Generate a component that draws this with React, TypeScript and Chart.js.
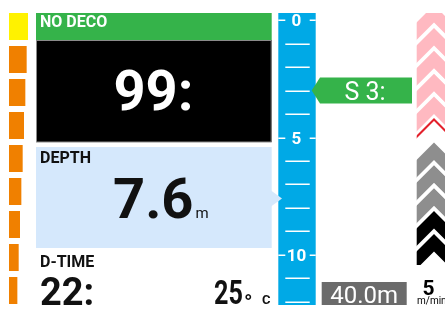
import React, { useEffect, useRef } from "react";
import { Chart, registerables } from "chart.js";

Chart.register(...registerables);

// ---- data ----
const tissueCompartments = ["C1", "C2", "C3", "C4", "C5", "C6", "C7", "C8", "C9"];
const tissueLoad = [100, 93, 86, 79, 72, 65, 58, 51, 44];
const depthTicks = [0, 1, 2, 3, 4, 5, 6, 7, 8, 9, 10, 11, 12];
const depthTickLabels = ["0", "", "", "", "", "5", "", "", "", "", "10", "", ""];
const currentDepth = 7.6;
const decoStopDepth = 3;
const decoStopLabel = "S 3:";
const noDecoLabel = "NO DECO";
const noDecoTime = "99:";
const depthLabel = "DEPTH";
const depthValue = "7.6";
const depthUnit = "m";
const diveTimeLabel = "D-TIME";
const diveTime = "22:";
const temperature = "25";
const temperatureDegree = "°";
const temperatureUnit = "C";
const maxDepthLabel = "40.0m";
const ascentRate = "5";
const ascentRateUnit = "m/min";
const ascentChevrons = ["pink", "pink", "pink", "pink", "pink", "red", "gray", "gray", "gray", "black", "black"];

const COLORS = {
  green: "#35B34A",
  black: "#000000",
  lightBlue: "#D5E8FC",
  blue: "#00A9E6",
  yellow: "#FFF200",
  orange: "#F08000",
  gray: "#6B6B6B",
  pink: "#FFB9C1",
  red: "#E3202B",
  chevGray: "#8E8E8E",
  chevBlack: "#000000",
};

const FONT = "Roboto, 'DejaVu Sans', sans-serif";

const displayPlugin = {
  id: "diveDisplay",
  afterDraw(chart: any) {
    const ctx: CanvasRenderingContext2D = chart.ctx;
    const y = chart.scales.y;
    const area = chart.chartArea;
    ctx.save();

    // black panel with thin gray outline
    ctx.fillStyle = COLORS.black;
    ctx.fillRect(36, 40, 235.7, 102);
    ctx.strokeStyle = "#8a8a8a";
    ctx.lineWidth = 1;
    ctx.strokeRect(36.5, 40.5, 234.7, 101.5);
    // green header
    ctx.fillStyle = COLORS.green;
    ctx.fillRect(36, 13, 235.7, 27);
    // light blue depth panel
    ctx.fillStyle = COLORS.lightBlue;
    ctx.fillRect(36, 147, 235.7, 101);

    // panel texts
    ctx.textBaseline = "alphabetic";
    ctx.textAlign = "left";
    ctx.fillStyle = "#ffffff";
    ctx.font = `bold 16px ${FONT}`;
    ctx.fillText(noDecoLabel, 40, 27);

    ctx.textAlign = "center";
    ctx.font = `bold 56px ${FONT}`;
    ctx.fillText(noDecoTime, 153.5, 110);

    ctx.textAlign = "left";
    ctx.fillStyle = "#111111";
    ctx.font = `bold 16px ${FONT}`;
    ctx.fillText(depthLabel, 40, 163);
    ctx.fillText(diveTimeLabel, 40, 266.5);

    ctx.font = `bold 56px ${FONT}`;
    ctx.fillText(depthValue, 113, 218);
    const dw = ctx.measureText(depthValue).width;
    ctx.font = `15px ${FONT}`;
    ctx.fillText(depthUnit, 113 + dw + 2, 218);

    ctx.font = `bold 38px ${FONT}`;
    ctx.fillText(diveTime, 40, 305);

    ctx.save();
    ctx.translate(214, 304);
    ctx.scale(0.74, 1);
    ctx.font = `bold 34px ${FONT}`;
    ctx.fillText(temperature, 0, 0);
    ctx.restore();
    ctx.font = `bold 22px ${FONT}`;
    ctx.fillText(temperatureDegree, 244, 310);
    ctx.font = `bold 13px ${FONT}`;
    ctx.fillText(temperatureUnit, 262, 304);

    // blue depth column (chart area)
    ctx.fillStyle = COLORS.blue;
    ctx.fillRect(area.left, area.top, area.right - area.left, area.bottom - area.top);

    // ruler ticks from the y scale
    const cx = (area.left + area.right) / 2 - 0.5;
    ctx.strokeStyle = "#ffffff";
    ctx.fillStyle = "#ffffff";
    ctx.lineWidth = 1.5;
    depthTicks.forEach((d, i) => {
      const py = Math.round(y.getPixelForValue(d)) + 0.25;
      const lab = depthTickLabels[i];
      if (lab) {
        ctx.beginPath();
        ctx.moveTo(area.left, py);
        ctx.lineTo(area.left + 7, py);
        ctx.moveTo(area.right - 6, py);
        ctx.lineTo(area.right, py);
        ctx.stroke();
        ctx.font = `bold 17px ${FONT}`;
        ctx.textAlign = "center";
        ctx.textBaseline = "middle";
        ctx.fillText(lab, cx, py + 1);
      } else {
        ctx.beginPath();
        ctx.moveTo(area.left + 7, py);
        ctx.lineTo(area.right - 6, py);
        ctx.stroke();
      }
    });

    // current depth pointer
    const pd = y.getPixelForValue(currentDepth);
    ctx.fillStyle = COLORS.lightBlue;
    ctx.beginPath();
    ctx.moveTo(271, pd - 8);
    ctx.lineTo(282, pd);
    ctx.lineTo(271, pd + 8);
    ctx.closePath();
    ctx.fill();

    // deco stop arrow
    const ps = y.getPixelForValue(decoStopDepth);
    ctx.fillStyle = COLORS.green;
    ctx.beginPath();
    ctx.moveTo(311.7, ps);
    ctx.lineTo(320, ps - 13);
    ctx.lineTo(412, ps - 13);
    ctx.lineTo(412, ps + 13);
    ctx.lineTo(320, ps + 13);
    ctx.closePath();
    ctx.fill();
    ctx.fillStyle = "#ffffff";
    ctx.font = `25px ${FONT}`;
    ctx.textAlign = "center";
    ctx.textBaseline = "alphabetic";
    ctx.fillText(decoStopLabel, 365, ps + 9.5);

    // max depth box
    ctx.fillStyle = COLORS.gray;
    ctx.fillRect(321.7, 282, 85, 23);
    ctx.fillStyle = "#ffffff";
    ctx.font = `24px ${FONT}`;
    ctx.fillText(maxDepthLabel, 364.2, 302.5);

    // ascent rate chevrons
    ctx.save();
    ctx.beginPath();
    ctx.rect(416.7, 13, 40, 252);
    ctx.clip();
    const ax = 434;
    const w = 40;
    const T = 17.5;
    ascentChevrons.forEach((kind, k) => {
      const apex = 5 + 22.9 * k;
      if (kind === "red") {
        ctx.strokeStyle = COLORS.red;
        ctx.lineWidth = 2;
        ctx.beginPath();
        ctx.moveTo(ax - w, apex + w);
        ctx.lineTo(ax, apex);
        ctx.lineTo(ax + w, apex + w);
        ctx.stroke();
        return;
      }
      ctx.fillStyle = kind === "pink" ? COLORS.pink : kind === "gray" ? COLORS.chevGray : COLORS.chevBlack;
      ctx.beginPath();
      ctx.moveTo(ax - w, apex + w);
      ctx.lineTo(ax, apex);
      ctx.lineTo(ax + w, apex + w);
      ctx.lineTo(ax + w, apex + w + T);
      ctx.lineTo(ax, apex + T);
      ctx.lineTo(ax - w, apex + w + T);
      ctx.closePath();
      ctx.fill();
    });
    ctx.restore();

    ctx.fillStyle = "#000000";
    ctx.textAlign = "center";
    ctx.font = `bold 21px ${FONT}`;
    ctx.fillText(ascentRate, 428.5, 295);
    ctx.textAlign = "left";
    ctx.font = `10px ${FONT}`;
    ctx.fillText(ascentRateUnit, 417, 304);

    ctx.restore();
  },
};

export default function App() {
  const mainRef = useRef<HTMLCanvasElement>(null);
  const tissueRef = useRef<HTMLCanvasElement>(null);

  useEffect(() => {
    const main = new Chart(mainRef.current as HTMLCanvasElement, {
      type: "scatter",
      data: {
        datasets: [{ data: [{ x: 0.5, y: currentDepth }], pointRadius: 0 }],
      },
      options: {
        animation: false,
        responsive: false,
        maintainAspectRatio: false,
        events: [],
        layout: { padding: { left: 278.3, right: 129.3, top: 13, bottom: 7 } },
        scales: {
          x: { display: false, min: 0, max: 1 },
          y: { display: false, reverse: true, min: -0.3, max: 12.13 },
        },
        plugins: { legend: { display: false }, tooltip: { enabled: false } },
      },
      plugins: [displayPlugin],
    } as any);

    const tissue = new Chart(tissueRef.current as HTMLCanvasElement, {
      type: "bar",
      data: {
        labels: tissueCompartments,
        datasets: [
          {
            data: tissueLoad,
            backgroundColor: tissueLoad.map((v) => (v >= 95 ? COLORS.yellow : COLORS.orange)),
            barPercentage: 1,
            categoryPercentage: 27 / 33,
          },
        ],
      },
      options: {
        indexAxis: "y",
        animation: false,
        responsive: false,
        maintainAspectRatio: false,
        events: [],
        layout: { padding: 0 },
        scales: {
          x: { display: false, min: 0, max: 100 },
          y: { display: false },
        },
        plugins: { legend: { display: false }, tooltip: { enabled: false } },
      },
    } as any);

    return () => {
      main.destroy();
      tissue.destroy();
    };
  }, []);

  return (
    <div style={{ position: "absolute", left: 0, top: 0, width: 445, height: 312, background: "#ffffff", overflow: "hidden" }}>
      <canvas ref={mainRef} width={445} height={312} style={{ position: "absolute", left: 0, top: 0, width: 445, height: 312 }} />
      <canvas ref={tissueRef} width={19} height={297} style={{ position: "absolute", left: 9, top: 10, width: 19, height: 297 }} />
    </div>
  );
}
